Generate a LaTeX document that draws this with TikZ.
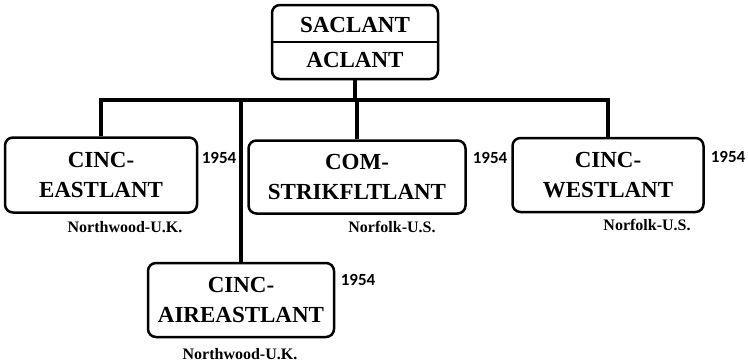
\documentclass[tikz,border=0pt]{standalone}
\usepackage{fontspec}
\setmainfont{Liberation Serif}
\newfontfamily\yearfont{Carlito}
\begin{document}
\begin{tikzpicture}[x=1pt,y=-1pt,
    unit/.style={draw,line width=2.5pt,rounded corners=8pt,align=center,inner sep=0pt,
      font=\bfseries\fontsize{23}{30}\selectfont},
    year/.style={font=\yearfont\bfseries\fontsize{17}{17}\selectfont,inner sep=0pt},
    place/.style={font=\bfseries\fontsize{16}{16}\selectfont,inner sep=0pt},
    link/.style={line width=4.5pt}]
  \useasboundingbox (0,0) rectangle (748,364);
  % command boxes
  \node[unit,minimum width=166pt,minimum height=74pt] (sac) at (355,42) {SACLANT\\[5pt]ACLANT};
  \node[unit,minimum width=192pt,minimum height=75pt] (east) at (101,175) {CINC-\\EASTLANT};
  \node[unit,minimum width=217pt,minimum height=73pt] (strike) at (357,177) {COM-\\STRIKFLTLANT};
  \node[unit,minimum width=191pt,minimum height=74pt] (west) at (608,175) {CINC-\\WESTLANT};
  \node[unit,minimum width=186pt,minimum height=74pt] (air) at (241,300) {CINC-\\AIREASTLANT};
  \draw[line width=2.5pt] (sac.west) -- (sac.east);
  % years and places
  \node[year] (eastyr) at (219,158) {1954};
  \node[year] (strikeyr) at (490,158) {1954};
  \node[year] (westyr) at (728,157) {1954};
  \node[year] (airyr) at (358,280) {1954};
  \node[place] (eastloc) at (125,227) {Northwood-U.K.};
  \node[place] (strikeloc) at (392,227) {Norfolk-U.S.};
  \node[place] (westloc) at (647,225) {Norfolk-U.S.};
  \node[place] (airloc) at (240,354) {Northwood-U.K.};
  % links
  \coordinate (bus) at (0,100);
  \begin{scope}[link]
    \draw (east.north) -- (east.north |- bus) -- (west.north |- bus) -- (west.north);
    \draw (sac.south) -- (sac.south |- bus);
    \draw (strike.north) -- (strike.north |- bus);
    \draw (air.north) -- (air.north |- bus);
  \end{scope}
\end{tikzpicture}
\end{document}
